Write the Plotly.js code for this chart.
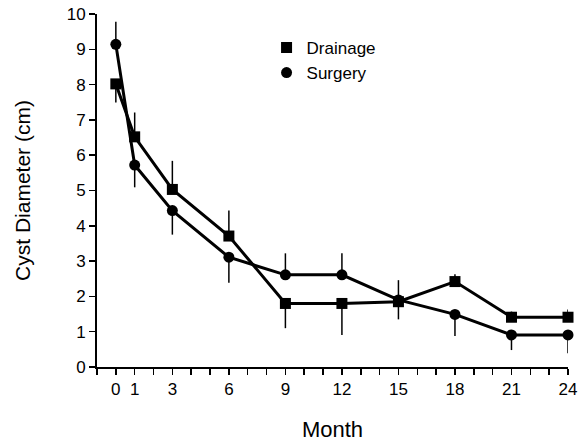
<!DOCTYPE html>
<html>
<head>
<meta charset="utf-8">
<script src="https://cdn.plot.ly/plotly-3.0.1.min.js"></script>
<style>html,body{margin:0;padding:0;background:#fff;}#chart{width:578px;height:442px;}</style>
</head>
<body>
<div id="chart"></div>
<script>
const months = [0, 1, 3, 6, 9, 12, 15, 18, 21, 24];
const tickLabels = ["0", "1", "3", "6", "9", "12", "15", "18", "21", "24"];

const drainage = [8.02, 6.52, 5.03, 3.71, 1.80, 1.80, 1.85, 2.42, 1.41, 1.41];
const drainageErrUp = [0, 0.69, 0.81, 0.72, 0, 0, 0, 0.21, 0.16, 0.22];
const drainageErrDown = [0.53, 0, 0, 0, 0.70, 0.89, 0.50, 0, 0, 0];

const surgery = [9.14, 5.72, 4.43, 3.11, 2.61, 2.61, 1.90, 1.49, 0.91, 0.91];
const surgeryErrUp = [0.64, 0, 0, 0, 0.61, 0.61, 0.56, 0, 0, 0];
const surgeryErrDown = [0, 0.63, 0.68, 0.72, 0, 0, 0, 0.61, 0.43, 0.52];

const FONT = 'Liberation Sans, Arial, Helvetica, sans-serif';

function lineTrace(y) {
  return {x: months, y: y, mode: 'lines', showlegend: false, hoverinfo: 'skip',
    line: {color: '#000', width: 3}, cliponaxis: false};
}
function markerTrace(name, y, up, down, symbol) {
  return {x: months, y: y, name: name, mode: 'markers', cliponaxis: false,
    marker: {symbol: symbol, size: 11, color: '#000'},
    error_y: {type: 'data', symmetric: false, array: up, arrayminus: down,
      color: '#000', thickness: 1.5, width: 0, visible: true}};
}

const data = [
  lineTrace(drainage),
  lineTrace(surgery),
  markerTrace('Drainage', drainage, drainageErrUp, drainageErrDown, 'square'),
  markerTrace('Surgery', surgery, surgeryErrUp, surgeryErrDown, 'circle')
];

const layout = {
  width: 578, height: 442,
  margin: {l: 97, r: 10, t: 14, b: 75},
  paper_bgcolor: '#fff', plot_bgcolor: '#fff',
  font: {family: FONT, color: '#000', size: 17},
  showlegend: true,
  legend: {x: 0.36, y: 0.955, xanchor: 'left', yanchor: 'top',
    font: {family: FONT, size: 17, color: '#000'}, bgcolor: 'rgba(0,0,0,0)',
    tracegroupgap: 0},
  xaxis: {
    range: [-1, 24], showgrid: false, zeroline: false,
    showline: true, linecolor: '#000', linewidth: 2,
    ticks: 'outside', ticklen: 6, tickwidth: 1.5, tickcolor: '#000',
    tickvals: months, ticktext: tickLabels,
    tickfont: {family: FONT, size: 17, color: '#000'},
    minor: {dtick: 1, tick0: 0, ticks: 'outside', ticklen: 6, tickwidth: 1.5, tickcolor: '#000', showgrid: false},
    title: {text: 'Month', font: {family: FONT, size: 22, color: '#000'}, standoff: 24}
  },
  yaxis: {
    range: [0, 10], showgrid: false, zeroline: false,
    showline: true, linecolor: '#000', linewidth: 2,
    ticks: 'outside', ticklen: 6, tickwidth: 1.5, tickcolor: '#000',
    dtick: 1, tick0: 0,
    tickfont: {family: FONT, size: 17, color: '#000'},
    title: {text: 'Cyst Diameter (cm)', font: {family: FONT, size: 21, color: '#000'}, standoff: 30}
  }
};

Plotly.newPlot('chart', data, layout, {displayModeBar: false, staticPlot: true});
</script>
</body>
</html>
